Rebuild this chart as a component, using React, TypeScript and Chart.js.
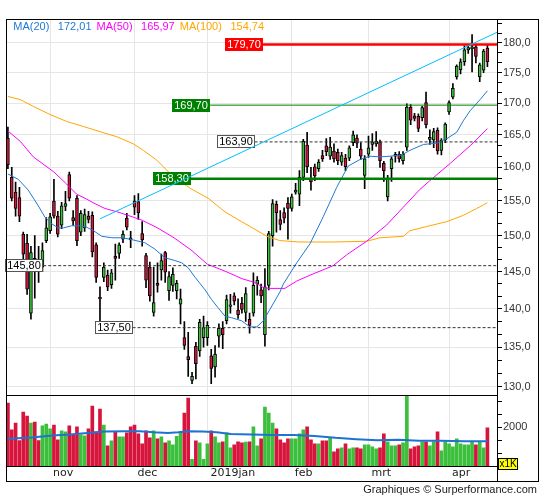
import React, { useEffect, useRef } from "react";
import { Chart, registerables } from "chart.js";

Chart.register(...registerables);

// ---------------- data ----------------
const opens = [
  164.5, 158.5, 156.3, 155.5, 150.2, 148.9, 139.4, 146.8, 146.6, 145.6,
  149.3, 150.7, 155.0, 152.8, 151.5, 154.2, 158.9, 152.6, 155.4, 150.5,
  151.1, 152.8, 152.9, 148.7, 141.5, 144.2, 144.5, 143.2, 147.1, 147.5,
  149.5, 152.5, 149.7, 155.0, 154.9, 150.3, 147.2, 145.6, 139.5, 143.4,
  145.2, 147.6, 142.4, 143.1, 142.4, 140.6, 136.2, 133.8, 130.8, 135.1,
  134.5, 136.2, 136.2, 133.9, 132.5, 136.4, 137.4, 138.4, 140.3, 141.7,
  139.8, 140.7, 139.5, 138.6, 139.4, 143.3, 142.5, 136.6, 143.1, 150.0,
  154.5, 152.3, 153.3, 154.7, 153.9, 156.3, 156.0, 158.5, 163.4, 158.4,
  160.1, 159.8, 161.8, 163.3, 161.7, 162.5, 162.3, 160.8, 161.4, 161.4,
  163.8, 164.5, 162.8, 158.8, 162.0, 163.5, 163.6, 163.9, 160.6, 155.6,
  159.8, 161.7, 162.0, 161.0, 163.1, 169.4, 168.0, 167.9, 167.7, 170.1,
  164.3, 164.2, 165.7, 162.6, 164.2, 168.6, 171.0, 174.3, 175.5, 176.8,
  178.8, 179.0, 179.3, 174.3, 175.4, 179.1,
];
const highs = [
  166.2, 160.0, 157.8, 157.0, 150.5, 150.2, 148.5, 150.0, 148.5, 149.0,
  152.6, 153.2, 158.2, 153.5, 154.8, 156.4, 159.3, 153.6, 155.8, 153.6,
  153.8, 153.5, 153.4, 149.0, 142.9, 146.2, 145.2, 145.3, 148.8, 149.0,
  150.7, 153.2, 150.6, 155.8, 156.1, 152.0, 147.5, 146.3, 145.6, 146.2,
  147.4, 147.8, 145.0, 145.5, 143.8, 142.6, 138.3, 136.9, 131.8, 135.6,
  138.6, 139.0, 138.3, 134.7, 135.2, 138.0, 138.3, 141.8, 141.9, 142.1,
  141.3, 141.5, 142.8, 139.4, 144.8, 144.3, 143.3, 145.4, 150.6, 155.2,
  155.0, 153.6, 154.0, 155.5, 156.0, 157.6, 159.5, 164.3, 165.4, 160.0,
  160.5, 161.2, 162.6, 164.4, 164.6, 163.6, 162.8, 162.3, 162.0, 163.3,
  165.6, 165.0, 163.8, 161.8, 164.8, 165.2, 165.5, 164.2, 160.9, 158.8,
  161.6, 162.3, 162.4, 162.4, 169.9, 169.8, 168.4, 168.3, 169.5, 171.8,
  165.8, 166.0, 166.1, 164.4, 166.9, 170.4, 173.2, 176.3, 177.3, 179.5,
  179.6, 181.4, 179.6, 176.6, 178.9, 179.7,
];
const lows = [
  159.8, 155.0, 152.8, 152.0, 146.5, 141.9, 138.6, 141.4, 143.5, 145.0,
  149.0, 150.3, 152.5, 149.8, 151.0, 153.6, 155.0, 151.5, 148.6, 150.0,
  150.6, 151.8, 147.0, 143.5, 137.5, 143.6, 142.4, 142.7, 143.8, 146.8,
  149.0, 150.8, 148.3, 153.0, 152.3, 148.5, 142.8, 141.0, 139.0, 142.2,
  143.8, 143.5, 141.1, 142.3, 141.3, 138.0, 134.7, 131.3, 130.4, 131.0,
  133.8, 135.0, 135.2, 130.4, 131.2, 135.0, 134.8, 138.0, 139.4, 140.5,
  138.7, 139.4, 138.3, 136.8, 139.0, 141.8, 140.8, 135.1, 142.5, 148.5,
  150.5, 150.8, 151.8, 149.5, 153.5, 156.0, 154.3, 158.0, 159.2, 156.6,
  158.0, 159.4, 160.9, 161.8, 161.2, 160.8, 160.4, 160.3, 159.5, 161.0,
  163.3, 163.0, 161.2, 156.8, 161.5, 162.6, 163.2, 160.0, 157.9, 155.0,
  157.9, 160.8, 160.8, 160.5, 162.6, 166.6, 167.2, 165.5, 167.2, 166.1,
  163.5, 163.0, 162.0, 161.9, 163.8, 168.2, 170.7, 173.9, 174.8, 176.2,
  178.2, 175.1, 176.6, 173.5, 175.0, 176.0,
];
const closes = [
  160.4, 155.4, 153.9, 152.8, 147.4, 142.6, 147.6, 145.2, 145.0, 147.9,
  151.1, 152.7, 152.8, 150.2, 154.3, 154.6, 155.4, 152.1, 149.3, 153.2,
  153.0, 152.3, 147.7, 144.2, 141.3, 145.6, 142.9, 144.8, 146.8, 148.7,
  150.2, 151.2, 149.4, 154.1, 153.3, 149.4, 143.8, 141.7, 140.8, 143.1,
  146.5, 144.9, 144.3, 144.6, 143.4, 141.3, 135.2, 133.4, 131.3, 132.9,
  138.2, 137.5, 137.8, 132.3, 134.1, 137.4, 136.6, 141.2, 140.5, 141.0,
  139.2, 139.9, 142.0, 137.8, 143.1, 143.8, 141.7, 142.9, 150.3, 154.6,
  153.3, 151.6, 152.5, 153.9, 155.6, 156.6, 158.5, 164.0, 160.1, 157.8,
  158.7, 160.8, 161.3, 162.4, 163.1, 161.3, 161.0, 161.8, 160.1, 163.0,
  165.0, 163.7, 161.7, 161.3, 163.0, 163.9, 164.0, 161.0, 159.5, 158.3,
  161.3, 162.0, 161.3, 162.0, 169.4, 167.3, 167.6, 166.0, 169.3, 166.6,
  164.6, 165.5, 162.5, 164.2, 166.7, 170.1, 172.4, 176.1, 176.8, 178.8,
  179.2, 179.3, 177.7, 176.3, 178.6, 176.8,
];
// volume in thousands
const volumes = [
  3247, 1863, 2222, 1316, 2786, 2580, 2222, 2273, 1316, 2068,
  2170, 1914, 2119, 1350, 1812, 1760, 2068, 1606, 2017, 1606,
  1555, 1914, 3093, 1760, 2940, 2119, 1042, 1299, 1760, 1504,
  1504, 1709, 2017, 2119, 1658, 1145, 1812, 1453, 1812, 1401,
  1504, 1196, 1299, 1094, 1538, 1743, 2734, 3503, 342, 1299,
  1196, 342, 1145, 1812, 1504, 1196, 1248, 1709, 940, 1094,
  1248, 1196, 1230, 1248, 2017, 1042, 1401, 3042, 2734, 2222,
  1914, 1350, 1196, 1401, 1401, 1401, 1658, 1863, 2017, 1350,
  1145, 1145, 1299, 1299, 1453, 735, 889, 940, 1145, 889,
  940, 940, 889, 1094, 1094, 991, 889, 940, 1658, 1248,
  1042, 1042, 1094, 1196, 4200, 889, 991, 1042, 1248, 1248,
  1042, 1248, 1760, 786, 1248, 1145, 991, 1401, 1145, 1094,
  1094, 1248, 1094, 1248, 940, 1965,
];

const monthStarts = [11, 33, 52, 74, 94, 115];
const monthLabels = ["nov", "dec", "2019jan", "feb", "mrt", "apr"];
const priceTickLabels = [130, 135, 140, 145, 150, 155, 160, 165, 170, 175, 180];
const volumeTickLabels = [2000];

// moving averages: [candle index, value]
const ma20: [number, number][] = [
  [0, 159.0], [2.7, 158.2], [5.3, 156.6], [7.9, 154.3], [9.7, 152.6], [11.4, 151.7],
  [13.1, 151.1], [14.4, 151.1], [16.6, 151.4], [18.8, 151.4], [20.5, 151.2], [22.3, 150.7],
  [24.5, 149.9], [27.1, 149.7], [29.7, 149.7], [31.8, 149.5], [35.7, 149.0], [38.3, 148.1],
  [40.9, 146.9], [43.6, 146.5], [45.3, 146.2], [47, 145.5], [48.8, 144.2], [51.4, 142.5],
  [53.1, 141.2], [54.8, 140.1], [56.6, 139.0], [58.3, 138.8], [60.9, 138.4], [63.1, 137.6],
  [64.9, 137.6], [66.6, 138.4], [68.3, 139.9], [70.9, 142.2], [71.8, 143.3], [75.3, 146.2],
  [78.8, 148.9], [82.2, 152.7], [85.7, 157.0], [88.7, 160.2], [91.8, 161.2], [94.4, 161.7],
  [97, 161.6], [99.6, 161.7], [102.7, 161.9], [104.8, 162.6], [108.3, 163.5], [111.8, 163.7],
  [114.4, 164.4], [117, 165.4], [118.7, 167.2], [120.5, 168.8], [123.1, 170.6], [125, 172.01],
];
const ma50: [number, number][] = [
  [0, 165.6], [3.2, 164.0], [6.6, 161.6], [12, 159.3], [15.3, 157.5], [17.9, 156.0],
  [20.1, 155.4], [22.7, 154.6], [25.3, 153.9], [28.6, 153.4], [32.9, 152.6], [35, 152.2],
  [39, 151.1], [43.3, 149.7], [47.7, 148.0], [52, 146.0], [56.8, 145.0], [61.1, 144.0],
  [64.4, 143.5], [66.6, 142.8], [68.3, 142.7], [72.2, 142.7], [75.3, 143.7], [78.8, 144.5],
  [84.8, 145.8], [88.3, 147.3], [93.5, 149.2], [98.7, 151.5], [103.1, 154.1], [107.4, 156.7],
  [110, 158.0], [115.3, 160.6], [120.5, 163.3], [125, 165.97],
];
const ma100: [number, number][] = [
  [0, 171.1], [3.2, 170.6], [6.6, 169.5], [11, 168.2], [15.3, 167.1], [19.7, 166.3],
  [24, 165.5], [28.4, 164.7], [32.7, 163.6], [35.3, 162.6], [38.8, 161.1], [43.1, 158.6],
  [47.7, 156.8], [52.2, 155.4], [56.6, 153.4], [60.9, 152.0], [64.4, 150.9], [67.5, 149.9],
  [70.9, 149.3], [75.8, 149.1], [84.8, 149.1], [93.5, 149.2], [97, 149.7], [103.1, 149.9],
  [104.8, 150.7], [109.2, 151.3], [114.4, 152.0], [118.7, 152.9], [122.2, 153.9], [125, 154.74],
];
const volumeMa: [number, number][] = [
  [0, 1401], [6.1, 1470], [11.6, 1572], [16.2, 1624], [20.7, 1709], [25.3, 1777],
  [30.7, 1794], [34.4, 1794], [38, 1743], [41.7, 1709], [44.4, 1743], [47.1, 1794],
  [50.8, 1777], [54.4, 1743], [58.1, 1658], [63.5, 1624], [69, 1606], [74.5, 1606],
  [79.9, 1555], [85.4, 1453], [90.8, 1384], [96.3, 1333], [101.8, 1350], [107.2, 1299],
  [112.7, 1299], [119.1, 1282], [125, 1282],
];
const trendLine: [number, number][] = [[24, 152.4], [127.5, 181.8]];

const legendNames = ["MA(20)", "MA(50)", "MA(100)"];
const legendValues = [172.01, 165.97, 154.74];

const levelValues = [179.7, 169.7, 163.9, 158.3, 145.8, 137.5];
const levelStarts = [66.4, 52.7, 64.3, 47.7, 9.2, 32.5];

// ---------------- styling ----------------
const RED = "#d6143c";
const GREEN = "#3cbf3c";
const MA_COLORS = ["#1f7ad4", "#ff00ff", "#ffa500"];
const GRID = "#e6e6e6";
const PRICE_MIN = 128.98;
const PRICE_MAX = 184.1;
const VOL_MAX = 3650;
const X_MAX = 127.5;
const FONT = "'Liberation Sans', Arial, sans-serif";

const levelStyles = [
  { line: "#ff0000", width: 2.5, dash: [] as number[], fill: "#ff0000", text: "#ffffff", border: "" },
  { line: "#008000", width: 1, dash: [] as number[], fill: "#008000", text: "#ffffff", border: "" },
  { line: "#333333", width: 1, dash: [3, 2], fill: "#ffffff", text: "#000000", border: "#555555" },
  { line: "#008000", width: 2.5, dash: [] as number[], fill: "#008000", text: "#ffffff", border: "" },
  { line: "#333333", width: 1, dash: [3, 2], fill: "#ffffff", text: "#000000", border: "#555555" },
  { line: "#333333", width: 1, dash: [3, 2], fill: "#ffffff", text: "#000000", border: "#555555" },
];

const fmt = (v: number, d: number) => v.toFixed(d).replace(".", ",");
const isMajor = (v: number) => v != null && Math.abs(v / 5 - Math.round(v / 5)) < 1e-6;

const priceTicks: number[] = [];
priceTickLabels.forEach((m) => {
  [0, 5 / 3, 10 / 3].forEach((d) => {
    const v = m + d;
    if (v >= PRICE_MIN && v <= PRICE_MAX) priceTicks.push(v);
  });
});
const volumeTicks: number[] = [1, 2, 3, 4, 5].map((k) => (volumeTickLabels[0] / 3) * k);

const drawBoxes = (chart: any) => {
  const ctx = chart.ctx;
  const xs = chart.scales.x;
  const ys = chart.scales.y;
  ctx.save();
  ctx.font = `11px ${FONT}`;
  levelValues.forEach((v, k) => {
    const st = levelStyles[k];
    const label = fmt(v, 2);
    const w = Math.round(ctx.measureText(label).width + 4);
    const h = 13;
    const xr = xs.getPixelForValue(levelStarts[k]);
    const yc = ys.getPixelForValue(v);
    const x0 = Math.round(xr - w);
    const y0 = Math.round(yc - h / 2);
    ctx.fillStyle = st.fill;
    ctx.fillRect(x0, y0, w, h);
    if (st.border) {
      ctx.strokeStyle = st.border;
      ctx.lineWidth = 1;
      ctx.strokeRect(x0 + 0.5, y0 + 0.5, w - 1, h - 1);
    }
    ctx.fillStyle = st.text;
    ctx.textAlign = "center";
    ctx.textBaseline = "middle";
    ctx.fillText(label, x0 + w / 2, y0 + h / 2 + 0.5);
  });
  ctx.restore();
};

const overlayPlugin = {
  id: "overlay",
  beforeDatasetDraw(chart: any, args: any) {
    if (args.meta && args.meta.label === "trend") drawBoxes(chart);
  },
  afterDatasetsDraw(chart: any) {
    const ctx = chart.ctx;
    ctx.save();
    ctx.font = `11px ${FONT}`;
    ctx.textBaseline = "middle";
    ctx.textAlign = "left";
    let x = 13.3;
    const y = 27;
    legendNames.forEach((n, k) => {
      ctx.fillStyle = MA_COLORS[k];
      ctx.fillText(n, x, y);
      x += ctx.measureText(n).width + 8.5;
      const v = fmt(legendValues[k], 2);
      ctx.fillText(v, x, y);
      x += ctx.measureText(v).width + 5;
    });
    ctx.restore();
  },
  afterDraw(chart: any) {
    const ctx = chart.ctx;
    const ca = chart.chartArea;
    const yv = chart.scales.yv;
    const yAx = chart.scales.y;
    const right = yAx.right;
    const bottom = chart.scales.x.bottom;
    ctx.save();
    ctx.strokeStyle = "#000";
    ctx.lineWidth = 1;
    // outer frame
    ctx.strokeRect(ca.left + 0.5, ca.top + 0.5, right - ca.left, bottom - ca.top);
    // axis column separator through the label row
    ctx.beginPath();
    ctx.moveTo(Math.round(ca.right) + 0.5, ca.top);
    ctx.lineTo(Math.round(ca.right) + 0.5, bottom + 1);
    // panel separator
    const sy = Math.floor(yv.top) + 0.5;
    ctx.moveTo(ca.left, sy);
    ctx.lineTo(ca.right, sy);
    ctx.stroke();
    // x1K box
    const bx = Math.round(ca.right) + 1;
    const by = Math.round(yv.bottom) - 8;
    ctx.fillStyle = "#ffff00";
    ctx.fillRect(bx, by, 20, 12);
    ctx.strokeRect(bx + 0.5, by + 0.5, 19, 11);
    ctx.fillStyle = "#000";
    ctx.font = `10px ${FONT}`;
    ctx.textAlign = "center";
    ctx.textBaseline = "middle";
    ctx.fillText("x1K", bx + 10, by + 6.5);
    // credit
    ctx.font = `11px ${FONT}`;
    ctx.textAlign = "right";
    ctx.fillStyle = "#222";
    ctx.fillText("Graphiques \u00A9 Surperformance.com", right - 1, bottom + 9);
    ctx.restore();
  },
};

const lineDs = (pts: [number, number][], color: string, width: number, axis: string, order: number, label: string, dash: number[] = []) => ({
  type: "line" as const,
  label,
  data: pts.map(([x, y]) => ({ x, y })),
  borderColor: color,
  borderWidth: width,
  borderDash: dash,
  pointRadius: 0,
  fill: false,
  tension: 0,
  yAxisID: axis,
  order,
});

export default function App() {
  const ref = useRef<HTMLCanvasElement | null>(null);

  useEffect(() => {
    document.body.style.margin = "0";
    if (!ref.current) return;
    const idx = opens.map((_, i) => i);
    const colors = idx.map((i) => (closes[i] >= opens[i] ? GREEN : RED));

    const datasets: any[] = [
      {
        type: "bar",
        label: "wick",
        data: idx.map((i) => ({ x: i, y: [lows[i], highs[i]] })),
        backgroundColor: "#000",
        barThickness: 1,
        grouped: false,
        yAxisID: "y",
        order: 20,
      },
      {
        type: "bar",
        label: "body",
        data: idx.map((i) => ({ x: i, y: [opens[i], closes[i]] })),
        backgroundColor: colors,
        borderColor: "#000",
        borderWidth: 1,
        borderSkipped: false,
        barThickness: 3,
        minBarLength: 1,
        grouped: false,
        yAxisID: "y",
        order: 19,
      },
      {
        type: "bar",
        label: "volume",
        data: idx.map((i) => ({ x: i, y: volumes[i] })),
        backgroundColor: colors,
        barThickness: 3,
        grouped: false,
        yAxisID: "yv",
        clip: 0,
        order: 18,
      },
      lineDs(volumeMa, "#1e73d2", 2, "yv", 17, "volma"),
      lineDs(ma100, MA_COLORS[2], 1, "y", 16, "ma100"),
      lineDs(ma50, MA_COLORS[1], 1, "y", 15, "ma50"),
      lineDs(ma20, MA_COLORS[0], 1, "y", 14, "ma20"),
      ...levelValues.map((v, k) =>
        lineDs(
          [[levelStarts[k], v], [X_MAX, v]],
          levelStyles[k].line,
          levelStyles[k].width,
          "y",
          5 + k,
          "level" + k,
          levelStyles[k].dash
        )
      ),
      lineDs(trendLine, "#00bfff", 1, "y", 0, "trend"),
    ];

    const tickFont = { family: FONT, size: 11 };

    const chart = new Chart(ref.current, {
      type: "bar",
      data: { datasets },
      options: {
        responsive: false,
        animation: false,
        events: [],
        layout: { padding: { left: 6, top: 19, right: 7, bottom: 19 } },
        plugins: { legend: { display: false }, tooltip: { enabled: false } },
        scales: {
          x: {
            type: "linear",
            min: -0.5,
            max: X_MAX,
            offset: false,
            bounds: "data",
            afterBuildTicks: (s: any) => {
              s.ticks = monthStarts.map((v) => ({ value: v }));
            },
            afterFit: (s: any) => {
              s.height = 15;
            },
            ticks: {
              autoSkip: false,
              maxRotation: 0,
              minRotation: 0,
              align: "start",
              labelOffset: 3,
              padding: 1,
              color: "#222",
              font: { family: "'DejaVu Sans', sans-serif", size: 11 },
              callback: (v: any) => {
                const k = monthStarts.indexOf(Number(v));
                return k >= 0 ? monthLabels[k] : "";
              },
            },
            grid: { color: GRID, drawTicks: false, offset: false },
            border: { color: "#000" },
          },
          y: {
            type: "logarithmic",
            position: "right",
            stack: "main",
            stackWeight: 376.3,
            min: PRICE_MIN,
            max: PRICE_MAX,
            bounds: "data",
            beginAtZero: false,
            afterBuildTicks: (s: any) => {
              s.ticks = priceTicks.map((v) => ({ value: v }));
            },
            afterFit: (s: any) => {
              s.width = 41;
            },
            ticks: {
              autoSkip: false,
              padding: 1,
              color: "#333",
              font: tickFont,
              callback: (v: any) => (isMajor(Number(v)) ? fmt(Number(v), 1) : ""),
            },
            grid: {
              color: (c: any) => (c.tick && isMajor(c.tick.value) ? GRID : "rgba(0,0,0,0)"),
              tickColor: "#000",
              tickLength: 5,
            },
            border: { color: "#000" },
          } as any,
          yv: {
            type: "linear",
            position: "right",
            stack: "main",
            stackWeight: 70.7,
            min: 0,
            max: VOL_MAX,
            bounds: "data",
            afterBuildTicks: (s: any) => {
              s.ticks = volumeTicks.map((v) => ({ value: v }));
            },
            afterFit: (s: any) => {
              s.width = 41;
            },
            ticks: {
              autoSkip: false,
              padding: 1,
              color: "#333",
              font: tickFont,
              callback: (v: any) => {
                const r = Math.round(Number(v));
                return volumeTickLabels.includes(r) ? String(r) : "";
              },
            },
            grid: { drawOnChartArea: false, tickColor: "#000", tickLength: 5 },
            border: { color: "#000" },
          } as any,
        },
      } as any,
      plugins: [overlayPlugin],
    });
    return () => chart.destroy();
  }, []);

  return (
    <div style={{ width: 545, height: 500, position: "relative", background: "#fff" }}>
      <canvas ref={ref} width={545} height={500} style={{ width: 545, height: 500, display: "block" }} />
    </div>
  );
}
